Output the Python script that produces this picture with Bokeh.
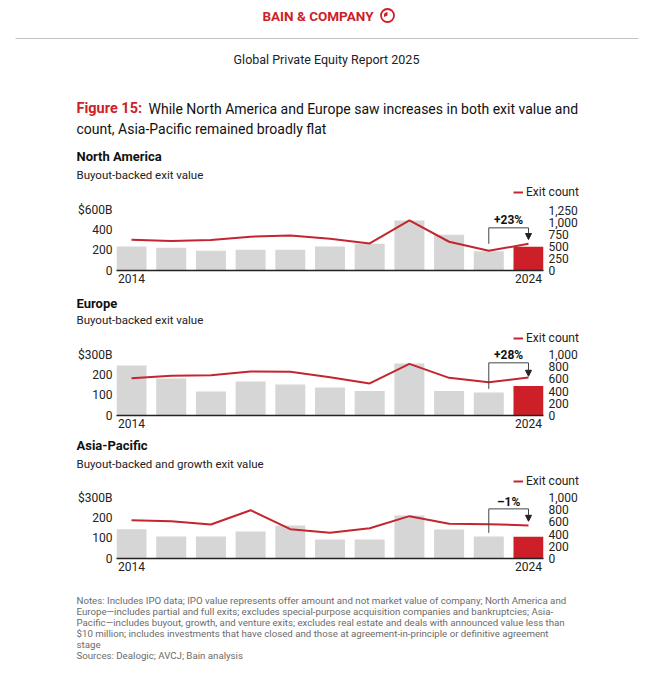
from bokeh.plotting import figure
from bokeh.models import (ColumnDataSource, Range1d, LinearAxis, FixedTicker,
                          NumeralTickFormatter, Legend, LegendItem, Arrow, NormalHead)
from bokeh.layouts import column
from bokeh.embed import file_html
from bokeh.resources import INLINE
from bokeh.core.properties import value

# ---------------- data ----------------
years = [2014, 2015, 2016, 2017, 2018, 2019, 2020, 2021, 2022, 2023, 2024]

na_value = [239, 225, 196, 205, 205, 239, 265, 497, 355, 192, 236]   # $B
na_count = [635, 608, 628, 698, 725, 655, 559, 1036, 594, 407, 552]

eu_value = [246, 182, 118, 167, 152, 138, 121, 256, 121, 113, 145]   # $B
eu_count = [612, 650, 661, 721, 716, 628, 525, 847, 617, 546, 623]

ap_value = [144, 108, 108, 133, 162, 93, 93, 211, 143, 108, 107]     # $B
ap_count = [628, 612, 557, 792, 481, 424, 497, 694, 568, 563, 541]

na_value_ticks = [0, 200, 400, 600]
na_count_ticks = [0, 250, 500, 750, 1000, 1250]
eu_value_ticks = [0, 100, 200, 300]
eu_count_ticks = [0, 200, 400, 600, 800, 1000]
ap_value_ticks = [0, 100, 200, 300]
ap_count_ticks = [0, 200, 400, 600, 800, 1000]

na_change = "+23%"
eu_change = "+28%"
ap_change = "\u20131%"

# ---------------- style ----------------
FONT = "Roboto"
RED = "#cc1f27"
LINE_RED = "#c2262e"
GRAY = "#d6d6d6"
DARK = "#222222"
W = 653
LEFT = 116
RIGHT = 110
NAN = float("nan")


def text_fig(height):
    p = figure(width=W, height=height, output_backend="svg", toolbar_location=None,
               x_range=Range1d(0, W), y_range=Range1d(height, 0),
               x_axis_location=None, y_axis_location=None,
               min_border=0, min_border_left=0, min_border_right=0,
               min_border_top=0, min_border_bottom=0)
    p.outline_line_color = None
    p.grid.visible = False
    p.background_fill_color = "white"
    p.border_fill_color = "white"
    try:
        p.frame_align = False
    except Exception:
        pass
    return p


def put(p, x, y, s, size, color=DARK, style="normal", align="left"):
    p.text(x=[x], y=[y], text=[s], text_font=value(FONT), text_font_size=size,
           text_color=color, text_font_style=style, text_align=align,
           text_baseline="middle")


def add_count_legend(tf, bottom_offset):
    # legend key for the "Exit count" line of the chart below
    key = tf.line(x=[NAN, NAN], y=[NAN, NAN], line_color=LINE_RED, line_width=2)
    legend = Legend(items=[LegendItem(label="Exit count", renderers=[key])],
                    location=(513, bottom_offset), orientation="vertical",
                    border_line_color=None, background_fill_alpha=0,
                    padding=0, margin=0, spacing=0,
                    glyph_width=10, glyph_height=14, label_height=14,
                    label_standoff=3, label_text_font=FONT,
                    label_text_font_size="12px", label_text_color=DARK)
    tf.add_layout(legend)


def style_y_axis(ax):
    ax.axis_line_color = None
    ax.major_tick_line_color = None
    ax.major_tick_in = 0
    ax.major_tick_out = 0
    ax.minor_tick_line_color = None
    ax.major_label_text_font = FONT
    ax.major_label_text_font_size = "12px"
    ax.major_label_text_color = DARK


def chart(values, counts, vticks, cticks, change, height, frame_h, px_per_unit, brk):
    y_end = frame_h / px_per_unit
    c_end = y_end * cticks[-1] / vticks[-1]
    p = figure(width=W, height=height, output_backend="svg", toolbar_location=None,
               x_range=Range1d(2013.622, 2024.378), y_range=Range1d(0, y_end),
               min_border_left=LEFT, min_border_right=RIGHT,
               min_border_top=0, min_border_bottom=20)
    p.outline_line_color = None
    p.grid.visible = False
    p.background_fill_color = "white"
    p.border_fill_color = "white"
    p.extra_y_ranges = {"count": Range1d(0, c_end)}

    colors = [GRAY] * (len(years) - 1) + [RED]
    src = ColumnDataSource(dict(year=years, value=values, count=counts, color=colors))
    p.vbar(x="year", top="value", width=0.756, source=src,
           fill_color="color", line_color=None)
    p.line(x="year", y="count", source=src, y_range_name="count",
           line_color=LINE_RED, line_width=2)

    # x axis
    xa = p.xaxis[0]
    xa.ticker = FixedTicker(ticks=[years[0], years[-1]])
    xa.axis_line_color = DARK
    xa.axis_line_width = 1.5
    xa.major_tick_in = 0
    xa.major_tick_out = 0
    xa.minor_tick_line_color = None
    xa.major_label_standoff = 3
    xa.major_label_text_font = FONT
    xa.major_label_text_font_size = "12px"
    xa.major_label_text_color = DARK

    # left axis (exit value)
    ya = p.yaxis[0]
    ya.ticker = FixedTicker(ticks=vticks)
    ya.major_label_overrides = {vticks[-1]: f"${vticks[-1]}B"}
    ya.major_label_standoff = 4
    style_y_axis(ya)

    # right axis (exit count)
    ra = LinearAxis(y_range_name="count", ticker=FixedTicker(ticks=cticks),
                    formatter=NumeralTickFormatter(format="0,0"))
    ra.major_label_standoff = 5
    style_y_axis(ra)
    p.add_layout(ra, "right")

    # bracket annotation (years[-2] -> years[-1])
    bottom, top, tip, label_y = brk
    x0, x1 = years[-2], years[-1]
    p.line(x=[x0, x0, x1], y=[bottom, top, top], line_color="#444444", line_width=1)
    p.add_layout(Arrow(end=NormalHead(size=6, fill_color=DARK, line_color=DARK),
                       x_start=x1, y_start=top, x_end=x1, y_end=tip,
                       line_color="#444444", line_width=1))
    p.text(x=[(x0 + x1) / 2], y=[label_y], text=[change], text_font=value(FONT),
           text_font_size="12px", text_font_style="bold", text_color="#111111",
           text_align="center", text_baseline="middle")
    return p


# ---------------- header (page y 0-200) ----------------
hdr = text_fig(200)
put(hdr, 373, 15, "BAIN & COMPANY", "13.5px", color=RED, style="bold", align="right")
hdr.scatter(x=[387], y=[15], size=13, marker="circle", fill_color=None,
            line_color=RED, line_width=1.8)
hdr.wedge(x=[387], y=[15], radius=3.6, start_angle=1.57, end_angle=3.6,
          direction="anticlock", fill_color=RED, line_color=None)
hdr.segment(x0=[15], y0=[38], x1=[638], y1=[38], line_color="#c4c4c4", line_width=1)
put(hdr, 326, 59, "Global Private Equity Report 2025", "12.5px", color=DARK, align="center")
put(hdr, 76, 108, "Figure 15:", "14.5px", color=RED, style="bold")
put(hdr, 148, 108, "While North America and Europe saw increases in both exit value and",
    "14px", color="#111111")
put(hdr, 76, 128, "count, Asia-Pacific remained broadly flat", "14px", color="#111111")
put(hdr, 76, 156, "North America", "13px", color="#111111", style="bold")
put(hdr, 76, 174, "Buyout-backed exit value", "11.5px", color=DARK)
add_count_legend(hdr, 1)

# NA chart: page y 200-290, frame 200-270
na = chart(na_value, na_count, na_value_ticks, na_count_ticks, na_change,
           height=90, frame_h=70, px_per_unit=60.5 / 600,
           brk=(265, 423, 307, 503))

# Europe titles: page y 290-346
eu_t = text_fig(56)
put(eu_t, 76, 12.5, "Europe", "13px", color="#111111", style="bold")
put(eu_t, 76, 29, "Buyout-backed exit value", "11.5px", color=DARK)
add_count_legend(eu_t, 1.3)

# Europe chart: page y 346-435, frame 346-415
eu = chart(eu_value, eu_count, eu_value_ticks, eu_count_ticks, eu_change,
           height=89, frame_h=69, px_per_unit=61 / 300,
           brk=(131, 259, 193, 299))

# Asia-Pacific titles: page y 435-489
ap_t = text_fig(54)
put(ap_t, 76, 10, "Asia-Pacific", "13px", color="#111111", style="bold")
put(ap_t, 76, 28, "Buyout-backed and growth exit value", "11.5px", color=DARK)
add_count_legend(ap_t, 1)

# Asia-Pacific chart: page y 489-578, frame 489-558
ap = chart(ap_value, ap_count, ap_value_ticks, ap_count_ticks, ap_change,
           height=89, frame_h=69, px_per_unit=61 / 300,
           brk=(126, 244, 183, 280))

# Notes: page y 578-678
notes = text_fig(100)
note_lines = [
    "Notes: Includes IPO data; IPO value represents offer amount and not market value of company; North America and",
    "Europe\u2014includes partial and full exits; excludes special-purpose acquisition companies and bankruptcies; Asia-",
    "Pacific\u2014includes buyout, growth, and venture exits; excludes real estate and deals with announced value less than",
    "$10 million; includes investments that have closed and those at agreement-in-principle or definitive agreement",
    "stage",
    "Sources: Dealogic; AVCJ; Bain analysis",
]
for i, s in enumerate(note_lines):
    put(notes, 76, 22 + i * 11, s, "9.7px", color="#6b6b6b")

layout = column(hdr, na, eu_t, eu, ap_t, ap, notes, spacing=0)

open("out.html", "w").write(file_html(layout, INLINE))
